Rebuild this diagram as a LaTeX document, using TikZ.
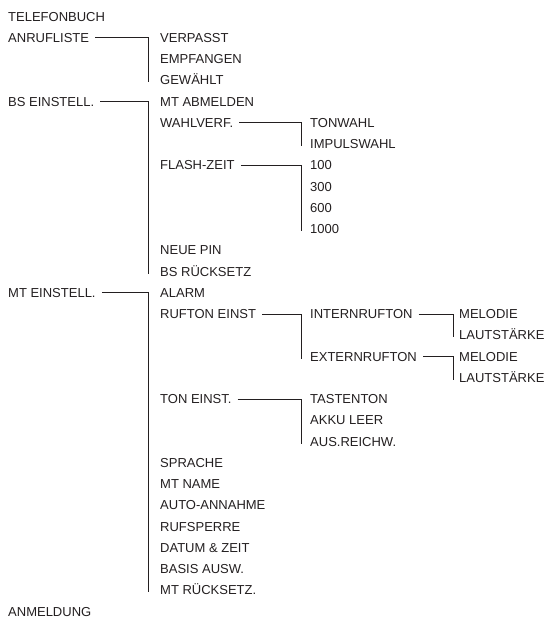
\documentclass[tikz,border=0pt]{standalone}
\usepackage{fontspec}
\setmainfont{Liberation Sans}
\usepackage{tikz}
\usetikzlibrary{calc}
\definecolor{ink}{RGB}{35,31,32}

\tikzset{
  entry/.style={anchor=west, inner sep=0pt, text height=9.4pt, text depth=0pt,
    text=ink, font=\fontsize{13}{13}\selectfont},
  link/.style={draw=ink, line width=0.8pt}
}

\begin{document}
\begin{tikzpicture}[x=1pt, y=-1pt]
  \useasboundingbox (0,0) rectangle (551,622);

  % first level
  \node[entry] (telefonbuch) at (8,16.5) {TELEFONBUCH};
  \node[entry] (anrufliste) at (8,37.75) {ANRUFLISTE};
  \node[entry] (bseinst) at (8,101.5) {BS EINSTELL.};
  \node[entry] (mteinst) at (8,292.75) {MT EINSTELL.};
  \node[entry] (anmeldung) at (8,611.5) {ANMELDUNG};

  % second level
  \node[entry] (verpasst) at (160,37.75) {VERPASST};
  \node[entry] (empfangen) at (160,59) {EMPFANGEN};
  \node[entry] (gewaehlt) at (160,80.25) {GEWÄHLT};
  \node[entry] (mtabmelden) at (160,101.5) {MT ABMELDEN};
  \node[entry] (wahlverf) at (160,122.75) {WAHLVERF.};
  \node[entry] (flashzeit) at (160,165.25) {FLASH-ZEIT};
  \node[entry] (neuepin) at (160,250.25) {NEUE PIN};
  \node[entry] (bsreset) at (160,271.5) {BS RÜCKSETZ};
  \node[entry] (alarm) at (160,292.75) {ALARM};
  \node[entry] (ruftoneinst) at (160,314) {RUFTON EINST};
  \node[entry] (toneinst) at (160,399) {TON EINST.};
  \node[entry] (sprache) at (160,462.75) {SPRACHE};
  \node[entry] (mtname) at (160,484) {MT NAME};
  \node[entry] (autoannahme) at (160,505.25) {AUTO-ANNAHME};
  \node[entry] (rufsperre) at (160,526.5) {RUFSPERRE};
  \node[entry] (datumzeit) at (160,547.75) {DATUM \& ZEIT};
  \node[entry] (basisausw) at (160,569) {BASIS AUSW.};
  \node[entry] (mtreset) at (160,590.25) {MT RÜCKSETZ.};

  % third level
  \node[entry] (tonwahl) at (310,122.75) {TONWAHL};
  \node[entry] (impulswahl) at (310,144) {IMPULSWAHL};
  \node[entry] (f100) at (310,165.25) {100};
  \node[entry] (f300) at (310,186.5) {300};
  \node[entry] (f600) at (310,207.75) {600};
  \node[entry] (f1000) at (310,229) {1000};
  \node[entry] (internruf) at (310,314) {INTERNRUFTON};
  \node[entry] (externruf) at (310,356.5) {EXTERNRUFTON};
  \node[entry] (tastenton) at (310,399) {TASTENTON};
  \node[entry] (akkuleer) at (310,420.25) {AKKU LEER};
  \node[entry] (ausreichw) at (310,441.5) {AUS.REICHW.};

  % fourth level
  \node[entry] (imelodie) at (459,314) {MELODIE};
  \node[entry] (ilaut) at (459,335.25) {LAUTSTÄRKE};
  \node[entry] (emelodie) at (459,356.5) {MELODIE};
  \node[entry] (elaut) at (459,377.75) {LAUTSTÄRKE};

  % brackets
  \draw[link] ([xshift=6pt]anrufliste.east) -| ([xshift=-12pt,yshift=-2pt]gewaehlt.west);
  \draw[link] ([xshift=6pt]bseinst.east) -| ([xshift=-12pt,yshift=-2pt]bsreset.west);
  \draw[link] ([xshift=6pt]mteinst.east) -| ([xshift=-12pt,yshift=-2pt]mtreset.west);
  \draw[link] ([xshift=6pt]wahlverf.east) -| ([xshift=-9pt,yshift=-2pt]impulswahl.west);
  \draw[link] ([xshift=6pt]flashzeit.east) -| ([xshift=-9pt,yshift=-2pt]f1000.west);
  \draw[link] ([xshift=6pt]ruftoneinst.east) -| ([xshift=-9pt,yshift=-2pt]externruf.west);
  \draw[link] ([xshift=6pt]toneinst.east) -| ([xshift=-9pt,yshift=-2pt]ausreichw.west);
  \draw[link] ([xshift=6pt]internruf.east) -| ([xshift=-6pt,yshift=-2pt]ilaut.west);
  \draw[link] ([xshift=6pt]externruf.east) -| ([xshift=-6pt,yshift=-2pt]elaut.west);
\end{tikzpicture}
\end{document}
